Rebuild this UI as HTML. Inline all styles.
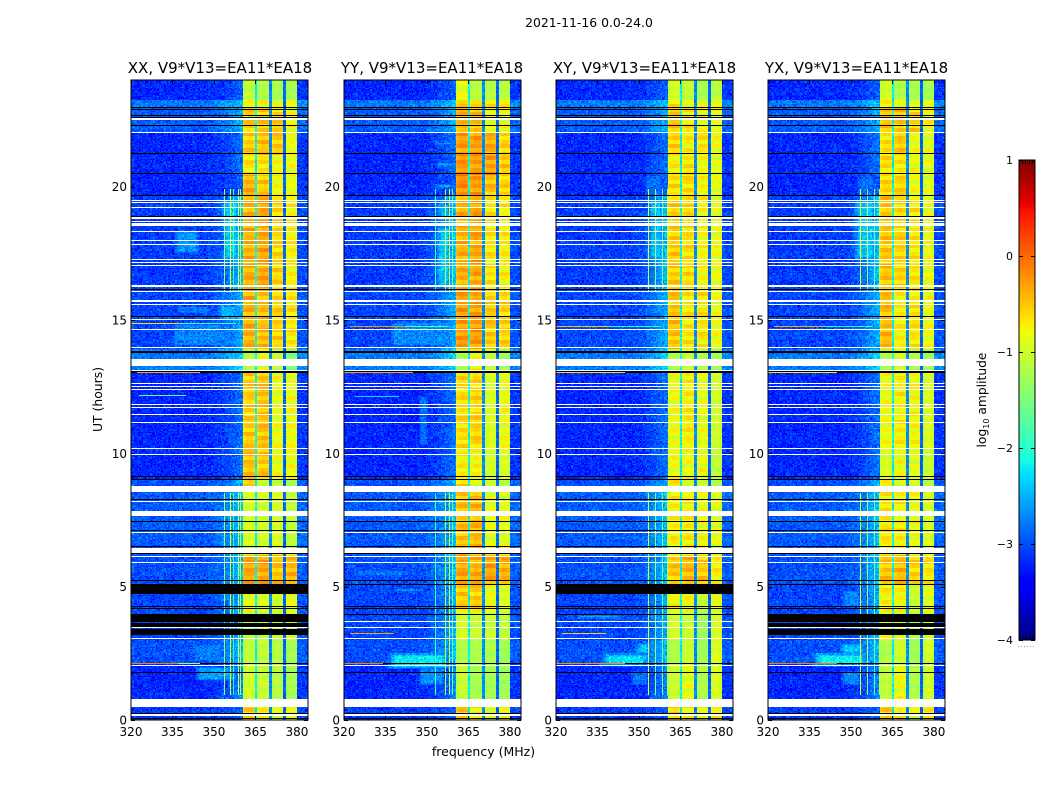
<!DOCTYPE html>
<html lang="en">
<head>
<meta charset="utf-8">
<title>2021-11-16 0.0-24.0</title>
<style>
html,body{margin:0;padding:0;background:#fff;}
#figure{position:relative;width:1050px;height:800px;overflow:hidden;background:#fff;font-family:"DejaVu Sans","Liberation Sans",sans-serif;}
canvas{position:absolute;image-rendering:pixelated;}
svg{position:absolute;left:0;top:0;}
text{font-family:"DejaVu Sans","Liberation Sans",sans-serif;fill:#000;}
</style>
</head>
<body>
<div id="figure">
<canvas id="c0" width="177" height="640" style="left:131px;top:80px"></canvas>
<canvas id="c1" width="177" height="640" style="left:344px;top:80px"></canvas>
<canvas id="c2" width="177" height="640" style="left:556px;top:80px"></canvas>
<canvas id="c3" width="177" height="640" style="left:768px;top:80px"></canvas>
<canvas id="cbar" width="16" height="480" style="left:1019px;top:160px"></canvas>
<svg id="overlay" width="1050" height="800" viewBox="0 0 1050 800">
<text x="589" y="27" text-anchor="middle" font-size="12.4">2021-11-16 0.0-24.0</text>
<text x="220" y="73" text-anchor="middle" font-size="15">XX, V9*V13=EA11*EA18</text>
<text x="432" y="73" text-anchor="middle" font-size="15">YY, V9*V13=EA11*EA18</text>
<text x="644.5" y="73" text-anchor="middle" font-size="15">XY, V9*V13=EA11*EA18</text>
<text x="856.5" y="73" text-anchor="middle" font-size="15">YX, V9*V13=EA11*EA18</text>
<text x="483.5" y="756" text-anchor="middle" font-size="12.5">frequency (MHz)</text>
<text transform="translate(102,399.5) rotate(-90)" text-anchor="middle" font-size="12.4">UT (hours)</text>
<text transform="translate(986,400) rotate(-90)" text-anchor="middle" font-size="12.3">log<tspan font-size="8" dy="3">10</tspan><tspan dy="-3"> amplitude</tspan></text>
</svg>
</div>
<script>
/* ---------- axis data ---------- */
const freqTicks = [320, 335, 350, 365, 380];
const utTicks = [0, 5, 10, 15, 20];
const colorTicks = [1, 0, -1, -2, -3, -4];
const colorTickLabels = ['1', '0', '\u22121', '\u22122', '\u22123', '\u22124'];
const colorMinorTicks = [0.2, 0.4, 0.6, 0.8];

/* ---------- time segments (UT hours) ---------- */
const utEdges = [0, 0.75, 2.06, 3, 4.05, 5.06, 6.19, 8.63, 9, 10.13, 13.05, 13.88, 16.13, 19.65, 20.44, 21.19, 21.98, 22.95, 23.25, 24];

/* background log10 amplitude per time segment */
const bgFar = [-3.1, -3.2, -3.0, -3.05, -3.05, -3.0, -2.95, -3.0, -3.2, -3.2, -2.8, -3.05, -3.1, -3.2, -3.2, -3.2, -2.95, -2.8, -3.2];
const bgNear = [-2.9, -2.7, -2.4, -2.5, -2.5, -2.4, -2.4, -2.5, -2.8, -2.8, -2.3, -2.5, -2.4, -2.9, -2.8, -2.8, -2.5, -2.4, -2.9];

/* receiver sub-bands (MHz) */
const subbandStart = [360.5, 365.5, 370.6, 375.7];
const subbandEnd = [365, 370, 375, 380];
const gapLevels = [-2.2, -2.7, -2.9];

/* sub-band log10 amplitudes: one row per time segment, one column per sub-band */
const levelsXX = [
[-0.6,-0.8,-0.9,-0.8],[-1.0,-1.05,-1.15,-1.25],[-1.1,-1.1,-1.15,-1.25],[-1.1,-1.1,-1.1,-1.0],
[-0.85,-0.95,-1,-0.85],[-0.35,-0.35,-0.5,-0.45],[-0.95,-1.0,-0.95,-1.1],[-0.6,-1.05,-1.1,-1.3],
[-0.5,-0.55,-0.85,-0.85],[-0.55,-0.5,-0.85,-0.85],[-1.2,-0.85,-1.1,-1.5],[-0.4,-0.45,-0.6,-0.7],
[-0.4,-0.35,-0.6,-0.75],[-0.4,-0.55,-0.8,-0.85],[-0.7,-0.7,-0.85,-0.85],[-0.55,-0.5,-0.55,-0.85],
[-0.55,-0.55,-0.6,-0.85],[-0.8,-0.85,-0.85,-0.85],[-1.1,-1.2,-1.25,-1.25]];
const levelsYY = [
[-0.5,-0.7,-0.9,-0.85],[-1.05,-1.25,-1.25,-1.3],[-1.2,-1.2,-1.2,-1.3],[-1.0,-1.05,-1.05,-1.1],
[-0.55,-0.55,-0.85,-0.95],[-0.35,-0.4,-0.35,-0.4],[-0.5,-0.45,-0.9,-0.9],[-0.6,-0.9,-1,-1.2],
[-0.75,-0.8,-1,-0.95],[-0.65,-0.6,-0.95,-0.85],[-1.2,-0.8,-1.1,-1.3],[-0.3,-0.3,-0.55,-0.6],
[-0.4,-0.35,-0.7,-0.75],[-0.2,-0.3,-0.5,-0.6],[-0.25,-0.3,-0.3,-0.55],[-0.3,-0.3,-0.4,-0.6],
[-0.45,-0.5,-0.85,-0.85],[-0.6,-0.6,-0.7,-0.75],[-0.9,-1.15,-1.15,-1.15]];
const levelsXY = [
[-0.6,-0.8,-0.9,-0.75],[-1.05,-0.9,-1.2,-0.95],[-1.2,-1.05,-1.3,-0.95],[-1.0,-1.05,-1.3,-0.95],
[-0.8,-0.8,-1.1,-0.9],[-0.55,-0.45,-0.55,-0.75],[-0.75,-0.75,-0.85,-0.9],[-0.7,-1,-1,-1.2],
[-0.85,-0.85,-0.85,-1.1],[-0.85,-0.75,-0.9,-1],[-1.2,-1,-1.2,-1.3],[-0.5,-0.7,-0.7,-0.85],
[-0.55,-0.65,-0.8,-0.85],[-0.65,-0.65,-0.8,-0.9],[-0.75,-0.7,-0.85,-0.9],[-0.6,-0.75,-0.7,-0.85],
[-0.55,-0.7,-0.85,-0.9],[-0.7,-0.85,-0.85,-0.9],[-1.0,-1.1,-1.25,-1.15]];
const levelsYX = [
[-0.55,-0.8,-0.9,-0.75],[-1.1,-0.85,-1.2,-1],[-1.2,-1.0,-1.3,-1],[-0.85,-1,-1.2,-1],
[-0.75,-0.8,-1.05,-0.9],[-0.5,-0.45,-0.6,-0.7],[-0.7,-0.75,-0.85,-0.95],[-0.8,-1,-1,-1.2],
[-0.95,-0.85,-0.9,-1.05],[-0.85,-0.75,-0.8,-0.95],[-1.2,-1,-1.2,-1.3],[-0.45,-0.75,-0.7,-0.85],
[-0.5,-0.6,-0.7,-0.85],[-0.6,-0.6,-0.85,-0.9],[-0.65,-0.7,-0.85,-0.9],[-0.65,-0.55,-0.85,-0.9],
[-0.5,-0.55,-0.6,-0.8],[-0.75,-0.85,-0.85,-0.9],[-1,-1.2,-1.25,-1.25]];

/* diffuse RFI patches: [ut start, ut end, freq start, freq end, log10 amp] */
const patchesXX = [[17.4,18.4,334,346,-2.65],[13.9,14.9,333,360,-2.75],[14.9,15.6,350,360,-2.5],[15.1,15.6,335,350,-2.8],[1.4,2.05,342,360,-2.6],[2.1,2.9,340,358,-2.8],[4.3,4.9,350,358,-2.7],[17.2,19.5,352,360,-2.35]];
const patchesYY = [[13.9,15,335,360,-2.7],[10.2,12.2,345,352,-2.85],[1.9,2.5,336,358,-2.2],[1.2,2.0,345,358,-2.7],[4.7,5.0,336,350,-2.7],[5.3,5.7,322,345,-2.8],[19.9,20.1,352,360,-2.4],[20.7,20.9,353,360,-2.3],[21.5,21.7,352,360,-2.4],[18.6,19.4,352,360,-2.5],[16.2,18.5,352,360,-2.4]];
const patchesXY = [[2.0,2.5,336,354,-2.3],[2.4,2.9,348,355,-2.3],[1.2,1.9,345,355,-2.8],[3.7,4.0,326,345,-2.6],[17.2,19.5,352,360,-2.45],[19.5,20.5,350,360,-2.85]];
const patchesYX = [[2.0,2.5,336,356,-2.2],[2.4,2.9,345,356,-2.4],[1.2,1.9,345,355,-2.7],[3.7,4.0,330,345,-2.6],[4.1,4.9,345,355,-2.7],[17.2,19.5,350,360,-2.4],[19.5,20.5,350,360,-2.85]];

/* narrow spectral RFI: frequency and log10 amp per panel */
const rfiFreqXX = [353.5, 355.9, 357, 358.6, 359.4];
const rfiLevelXX = [-1.3, -0.8, -2, -0.9, -1.3];
const rfiFreqYY = [353, 356.4, 358, 359.1];
const rfiLevelYY = [-1.9, -1.1, -1.0, -1.6];
const rfiFreqXY = [353.2, 355.7, 358.5, 360];
const rfiLevelXY = [-0.9, -1.4, -1.6, -1.2];
const rfiFreqYX = [353.2, 355.7, 358.5, 360];
const rfiLevelYX = [-0.85, -1.3, -1.6, -1.1];
const rfiSpanStart = [0.95, 16.1];
const rfiSpanEnd = [8.5, 19.9];

/* flagged times, common to all panels */
const whiteThin = [22.51,22.0,19.46,19.38,19.19,18.8,18.68,18.29,17.95,17.8,17.24,17.13,17.03,16.25,16.05,15.69,15.55,14.99,14.63,13.94,12.59,12.49,12.36,11.8,11.69,11.43,11.13,10.15,9.94,8.56,8.16,7.01,6.1,5.88,3.66,3.44,3.03,2.03,0.5,0.16];
const whiteBandStart = [18.51,13.28,13.05,8.59,7.65,6.25,0.53];
const whiteBandEnd = [18.62,13.54,13.14,8.78,7.84,6.46,0.79];
const blackThin = [22.96,22.89,22.65,22.59,22.28,21.23,20.46,19.65,18.87,16.13,15.1,13.03,9.12,8.25,7.41,7.09,6.5,6.22,5.21,5.06,4.24,4.15,3.94,2.09,1.75,0.24,0.04];
const blackBandStart = [13.76,9.0];
const blackBandEnd = [13.84,9.04];

/* flagged times per panel: one list per antenna product */
const blackStartXX = [4.73,3.69,3.49,3.2];
const blackEndXX = [5.06,3.96,3.64,3.41];
const blackStartYY = [];
const blackEndYY = [];
const blackStartXY = [4.73];
const blackEndXY = [5.06];
const blackStartYX = [3.69,3.49,3.2];
const blackEndYX = [3.96,3.64,3.41];

/* narrow-time RFI streaks: [ut, freq start, freq end, log10 amp] */
const streaksXX = [[2.09,320,337,-0.1],[2.09,337,345,-1.2],[14.85,320,338,-0.6],[14.85,338,358,-1.9],[12.15,323,340,-1.8],[13.0,322,345,-0.35]];
const streaksYY = [[2.09,320,334,-0.1],[3.22,322,338,-0.3],[14.75,322,342,-0.2],[14.75,342,358,-1.8],[13.0,320,345,-0.3],[12.1,324,340,-2.3]];
const streaksXY = [[2.09,320,345,-0.2],[3.22,322,338,-0.55],[14.75,320,340,-0.45],[14.75,340,358,-2],[13.0,320,345,-0.6]];
const streaksYX = [[2.09,320,345,-0.1],[14.75,322,340,-0.3],[14.75,340,358,-2],[13.0,320,345,-0.7]];

/* speckle texture read as typical deviations, and in-band row banding */
const speckle = [0.3,-0.7,0.9,-0.2,0.5,-0.9,0.1,0.7,-0.4,-0.8,0.6,0.2,-0.5,0.8,-0.1,-0.6,0.4,1,-0.3,-1,0.2,0.7,-0.7,0.5,-0.2,0.9,-0.5,0.1,-0.9,0.6,0.3,-0.4,0.8,-0.8,0,0.5,-0.6,0.9,-0.1,0.4,-0.3,0.7,-0.9,0.2,0.6,-0.7,0.1,-0.5,1,-0.2,0.3,-0.8,0.5,-0.4,0.8,-0.6,0.2,-1,0.7,-0.1,0.4];
const rowRipple = [0.12,-0.15,0.2,0.05,-0.2,0.15,-0.05,0.22,-0.12,0.08,-0.22,0.18,0,-0.1,0.25,-0.18,0.1,-0.06,0.16,-0.24,0.06,0.2,-0.14,0.02];
const subbandProfile = [-0.1,-0.03,0,0.02,0.03,0.03,0.02,0,-0.03,-0.1];

const panelNames = ['xx', 'yy', 'xy', 'yx'];
const panelLevels = [levelsXX, levelsYY, levelsXY, levelsYX];
const panelPatches = [patchesXX, patchesYY, patchesXY, patchesYX];
const panelRfiFreq = [rfiFreqXX, rfiFreqYY, rfiFreqXY, rfiFreqYX];
const panelRfiLevel = [rfiLevelXX, rfiLevelYY, rfiLevelXY, rfiLevelYX];
const panelBlackStart = [blackStartXX, blackStartYY, blackStartXY, blackStartYX];
const panelBlackEnd = [blackEndXX, blackEndYY, blackEndXY, blackEndYX];
const panelStreaks = [streaksXX, streaksYY, streaksXY, streaksYX];

/* ---------- layout and scales ---------- */
const panelLeft = [131, 344, 556, 768];
const panelWidth = 177;
const plotTop = 80;
const plotHeight = 640;
const freqMin = 320, freqMax = 384, utMax = 24;
const nCols = 128, nRows = 480;
const colorMin = -4, colorMax = 1, cbarLeft = 1019, cbarTop = 160, cbarWidth = 16, cbarHeight = 480;

function xLocal(f) { return (f - freqMin) / (freqMax - freqMin) * panelWidth; }
function yLocal(u) { return plotHeight - u / utMax * plotHeight; }
function yColor(v) { return cbarTop + (colorMax - v) / (colorMax - colorMin) * cbarHeight; }

function ramp(t, pts) {
  for (let i = 1; i < pts.length; i++) {
    if (t <= pts[i][0]) {
      const a = pts[i - 1], b = pts[i];
      return a[1] + (b[1] - a[1]) * (t - a[0]) / (b[0] - a[0]);
    }
  }
  return pts[pts.length - 1][1];
}
function jet(t) {
  t = Math.max(0, Math.min(1, t));
  const r = ramp(t, [[0, 0], [0.35, 0], [0.66, 1], [0.89, 1], [1, 0.5]]);
  const g = ramp(t, [[0, 0], [0.125, 0], [0.375, 1], [0.64, 1], [0.91, 0], [1, 0]]);
  const b = ramp(t, [[0, 0.5], [0.11, 1], [0.34, 1], [0.65, 0], [1, 0]]);
  return 'rgb(' + Math.round(r * 255) + ',' + Math.round(g * 255) + ',' + Math.round(b * 255) + ')';
}
function colorOf(v) { return jet((v - colorMin) / (colorMax - colorMin)); }
function segmentOf(u) {
  for (let i = 0; i < utEdges.length - 1; i++) { if (u < utEdges[i + 1]) return i; }
  return utEdges.length - 2;
}
function cellValue(p, c, r, f, u) {
  const seg = segmentOf(u);
  const n = speckle.length;
  const spk = speckle[(c * c * 3 + r * r * 7 + c * r * 11 + p * 13) % n] * 0.7 +
              speckle[(c * c * c + r * r * r * 5 + c * 2 * r + p * 29) % n] * 0.5;
  let v;
  if (f >= subbandStart[0] && f < subbandEnd[subbandEnd.length - 1]) {
    let sb = -1, gap = 0;
    for (let k = 0; k < subbandStart.length; k++) {
      if (f >= subbandStart[k] && f < subbandEnd[k]) sb = k;
      if (k < gapLevels.length && f >= subbandEnd[k] && f < subbandStart[k + 1]) gap = gapLevels[k];
    }
    if (sb >= 0) {
      const lvl = panelLevels[p][seg][sb];
      const pos = (f - subbandStart[sb]) / (subbandEnd[sb] - subbandStart[sb]);
      const ripple = rowRipple[(Math.floor(r / 3) + sb * 5 + p * 3 + seg * 7) % rowRipple.length];
      const amt = lvl > -0.95 ? 0.7 : 0.3;
      const idx = Math.min(subbandProfile.length - 1, Math.floor(pos * subbandProfile.length));
      v = lvl + ripple * amt + subbandProfile[idx] + spk * 0.06;
    } else {
      v = gap + spk * 0.15;
    }
  } else if (f >= subbandEnd[subbandEnd.length - 1]) {
    v = bgFar[seg] + 0.08 + spk * 0.25;
  } else {
    const w = Math.max(0, Math.min(1, (f - 345) / 15));
    v = bgFar[seg] + (bgNear[seg] - bgFar[seg]) * w * w + spk * 0.27;
  }
  const patches = panelPatches[p];
  for (let i = 0; i < patches.length; i++) {
    const q = patches[i];
    if (u >= q[0] && u < q[1] && f >= q[2] && f < q[3]) {
      const df = Math.min(f - q[2], q[3] - f) / 3;
      const du = Math.min(u - q[0], q[1] - u) / 0.15;
      const fade = Math.min(1, df, du);
      v = Math.max(v, q[4] - (1 - fade) * 0.7 + spk * 0.25);
    }
  }
  return v;
}

/* ---------- heatmaps ---------- */
function drawPanel(p) {
  const ctx = document.getElementById('c' + p).getContext('2d');
  ctx.fillStyle = '#fff';
  ctx.fillRect(0, 0, panelWidth, plotHeight);
  const colW = (freqMax - freqMin) / nCols, rowH = utMax / nRows;
  for (let c = 0; c < nCols; c++) {
    const f = freqMin + c * colW;
    const x0 = Math.round(xLocal(f)), x1 = Math.round(xLocal(f + colW));
    for (let r = 0; r < nRows; r++) {
      const u = r * rowH;
      const y1 = Math.round(yLocal(u)), y0 = Math.round(yLocal(u + rowH));
      ctx.fillStyle = colorOf(cellValue(p, c, r, f, u));
      ctx.fillRect(x0, y0, x1 - x0, y1 - y0);
    }
  }
  panelRfiFreq[p].forEach(function (freq, i) {
    rfiSpanStart.forEach(function (s, k) {
      const y0 = Math.round(yLocal(rfiSpanEnd[k])), y1 = Math.round(yLocal(s));
      ctx.fillStyle = colorOf(panelRfiLevel[p][i]);
      ctx.fillRect(Math.round(xLocal(freq)), y0, 1, y1 - y0);
    });
  });
  function band(a, b, color) {
    ctx.fillStyle = color;
    const y0 = Math.round(yLocal(b)), y1 = Math.round(yLocal(a));
    ctx.fillRect(0, y0, panelWidth, Math.max(1, y1 - y0));
  }
  whiteThin.forEach(function (u) { band(u, u + 0.05, '#fff'); });
  whiteBandStart.forEach(function (s, i) { band(s, whiteBandEnd[i], '#fff'); });
  blackThin.forEach(function (u) { band(u, u + 0.04, '#000'); });
  blackBandStart.forEach(function (s, i) { band(s, blackBandEnd[i], '#000'); });
  panelBlackStart[p].forEach(function (s, i) { band(s, panelBlackEnd[p][i], '#000'); });
  panelStreaks[p].forEach(function (q) {
    ctx.fillStyle = colorOf(q[3]);
    const x0 = Math.round(xLocal(q[1])), x1 = Math.round(xLocal(q[2]));
    ctx.fillRect(x0, Math.round(yLocal(q[0])) - 1, x1 - x0, 1);
  });
}
[0, 1, 2, 3].forEach(drawPanel);

/* ---------- colorbar gradient ---------- */
(function () {
  const ctx = document.getElementById('cbar').getContext('2d');
  for (let i = 0; i < cbarHeight; i++) {
    ctx.fillStyle = jet(1 - (i + 0.5) / cbarHeight);
    ctx.fillRect(0, i, cbarWidth, 1);
  }
})();

/* ---------- axes ---------- */
const NS = 'http://www.w3.org/2000/svg';
const overlay = document.getElementById('overlay');
function line(x1, y1, x2, y2, stroke) {
  const el = document.createElementNS(NS, 'line');
  el.setAttribute('x1', x1);
  el.setAttribute('y1', y1);
  el.setAttribute('x2', x2);
  el.setAttribute('y2', y2);
  el.setAttribute('stroke', stroke || '#000');
  el.setAttribute('stroke-width', '1');
  overlay.appendChild(el);
  return el;
}
function label(x, y, str, anchor, size) {
  const el = document.createElementNS(NS, 'text');
  el.setAttribute('x', x);
  el.setAttribute('y', y);
  el.setAttribute('text-anchor', anchor);
  el.setAttribute('font-size', size);
  el.textContent = str;
  overlay.appendChild(el);
  return el;
}
panelLeft.forEach(function (left, p) {
  const frame = document.createElementNS(NS, 'rect');
  frame.setAttribute('x', left);
  frame.setAttribute('y', plotTop);
  frame.setAttribute('width', panelWidth);
  frame.setAttribute('height', plotHeight);
  frame.setAttribute('fill', 'none');
  frame.setAttribute('stroke', '#000');
  frame.setAttribute('stroke-width', '1');
  
  
  overlay.appendChild(frame);
  freqTicks.forEach(function (f) {
    const x = Math.round(left + xLocal(f)) + 0.5;
    const t1 = line(x, plotTop + plotHeight, x, plotTop + plotHeight - 4);
    
    
    const t2 = line(x, plotTop, x, plotTop + 4);
    
    
    const tl = label(left + xLocal(f), 736, String(f), 'middle', 12);
    
    
  });
  utTicks.forEach(function (u) {
    const y = Math.round(plotTop + yLocal(u)) + 0.5;
    const t1 = line(left, y, left + 4, y);
    
    
    const t2 = line(left + panelWidth, y, left + panelWidth - 4, y);
    
    
    const tl = label(left - 4, plotTop + yLocal(u) + 4.5, String(u), 'end', 12);
    
    
  });
});

/* ---------- colorbar axis ---------- */
const cbarFrame = document.createElementNS(NS, 'rect');
cbarFrame.setAttribute('x', cbarLeft);
cbarFrame.setAttribute('y', cbarTop);
cbarFrame.setAttribute('width', cbarWidth);
cbarFrame.setAttribute('height', cbarHeight);
cbarFrame.setAttribute('fill', 'none');
cbarFrame.setAttribute('stroke', '#000');
cbarFrame.setAttribute('stroke-width', '1');


overlay.appendChild(cbarFrame);
colorTicks.forEach(function (v, i) {
  const y = Math.round(yColor(v)) + 0.5;
  const t1 = line(cbarLeft, y, cbarLeft + 4, y);
  
  
  const t2 = line(cbarLeft + cbarWidth, y, cbarLeft + cbarWidth - 4, y);
  
  
  const tl = label(cbarLeft - 6, yColor(v) + 4, colorTickLabels[i], 'end', 11);
  
  
});
colorMinorTicks.forEach(function (frac) {
  const x = Math.round(cbarLeft + frac * cbarWidth) + 0.5;
  const t1 = line(x, cbarTop, x, cbarTop + 4);
  
  
  const t2 = line(x, cbarTop + cbarHeight, x, cbarTop + cbarHeight - 4);
  
  
});
const dots = line(cbarLeft - 1, 646.5, cbarLeft + cbarWidth, 646.5, '#999');
dots.setAttribute('stroke-dasharray', '1 2');


</script>
</body>
</html>
